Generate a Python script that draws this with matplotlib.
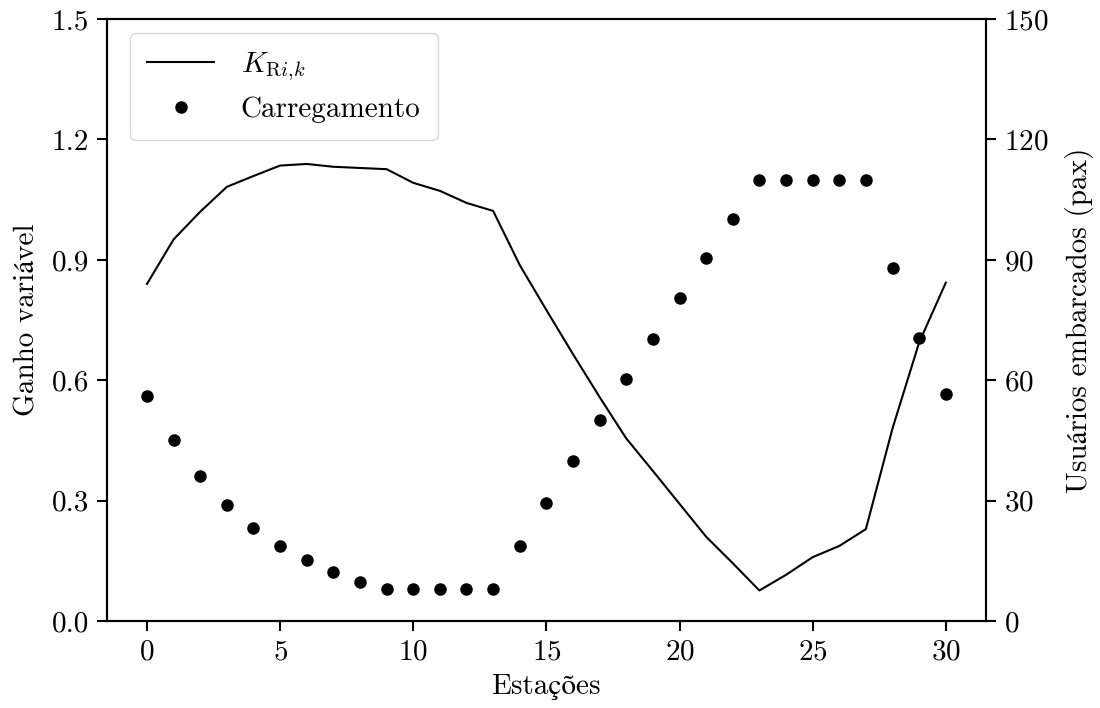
import numpy as np
import matplotlib
matplotlib.use("Agg")
import matplotlib.pyplot as plt

plt.rcParams['font.family'] = ['cmr10', 'STIXGeneral']
plt.rcParams['mathtext.fontset'] = 'cm'
plt.rcParams['axes.unicode_minus'] = False
plt.rcParams['axes.formatter.use_mathtext'] = True
plt.rcParams['font.size'] = 21

# estações da linha
estacoes = list(range(31))

# ganho variável K_Ri,k por estação
ganho = [0.840, 0.951, 1.020, 1.082, 1.109, 1.135, 1.139, 1.132, 1.129, 1.126,
         1.092, 1.072, 1.042, 1.022, 0.887, 0.775, 0.665, 0.558, 0.455, 0.374,
         0.292, 0.210, 0.144, 0.076, 0.115, 0.159, 0.187, 0.229, 0.480, 0.694,
         0.843]

# usuários embarcados (pax)
carregamento = [56, 45, 36.1, 29, 23.2, 18.7, 15.1, 12.2, 9.8, 8,
                8, 8, 8, 8, 18.8, 29.4, 39.9, 50.2, 60.4, 70.4,
                80.6, 90.5, 100.2, 110, 110, 110, 110, 110, 88, 70.5,
                56.5]

fig, ax = plt.subplots(figsize=(11, 7.08), dpi=100)
fig.subplots_adjust(left=0.0973, right=0.8961, top=0.973, bottom=0.1229)

l1, = ax.plot(estacoes, ganho, color='black', lw=1.5, label=r'$K_{\mathrm{R}i{,}k}$')
ax.set_ylim(0, 1.5)
ax.set_yticks([0.0, 0.3, 0.6, 0.9, 1.2, 1.5])
ax.set_yticklabels(['0.0', '0.3', '0.6', '0.9', '1.2', '1.5'])
ax.set_xticks([0, 5, 10, 15, 20, 25, 30])
ax.set_xlabel('Estações', labelpad=6)
ax.set_ylabel('Ganho variável', labelpad=8)

ax2 = ax.twinx()
l2, = ax2.plot(estacoes, carregamento, 'o', color='black', ms=8, label='Carregamento')
ax2.set_ylim(0, 150)
ax2.set_yticks([0, 30, 60, 90, 120, 150])
ax2.set_ylabel('Usuários embarcados (pax)', labelpad=12)

for a in (ax, ax2):
    for s in a.spines.values():
        s.set_linewidth(1.5)
    a.tick_params(width=1.5, length=7, pad=6, labelsize=21)

ax2.legend(handles=[l1, l2], loc='upper left', bbox_to_anchor=(0.026, 0.977),
           borderaxespad=0, fontsize=21, borderpad=0.6,
           handlelength=2.3, handletextpad=0.9, labelspacing=0.45)

fig.savefig('out.png', dpi=100)
